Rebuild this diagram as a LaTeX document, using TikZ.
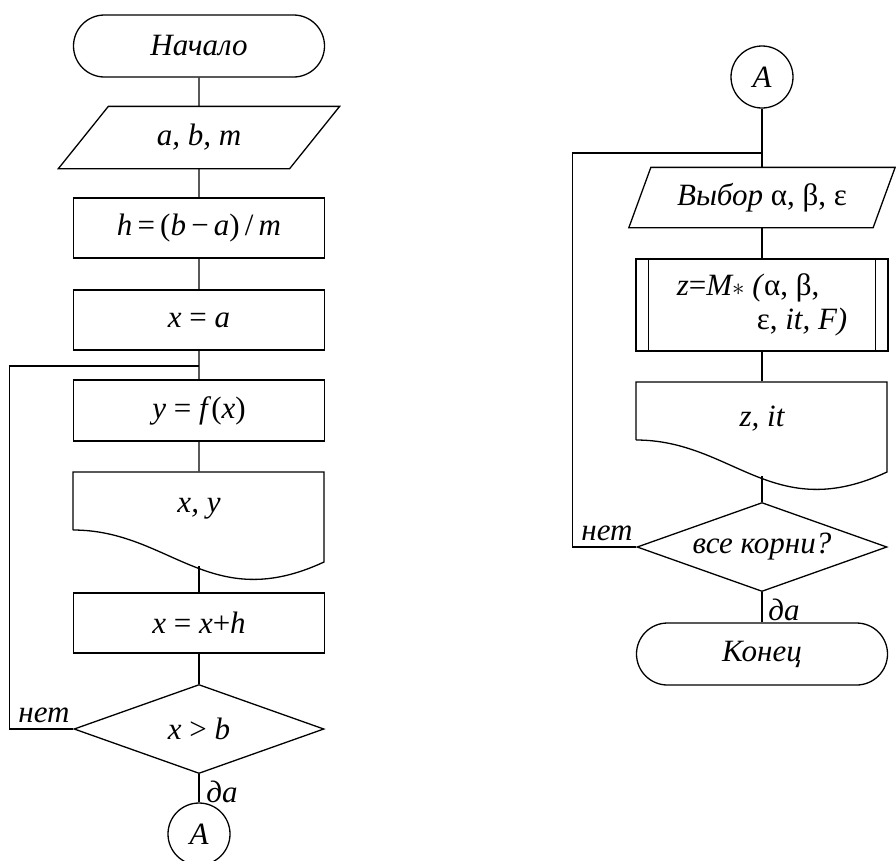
\documentclass[tikz,border=0pt]{standalone}
\usepackage{fontspec}
\setmainfont{Liberation Serif}
\usetikzlibrary{shapes.geometric,shapes.misc,calc}
\newcommand\upr[1]{\textup{#1}}
\tikzset{
  blk/.style={draw, rectangle, minimum width=251pt, minimum height=60pt, inner sep=0pt},
  term/.style={draw, rounded rectangle, minimum width=251pt, minimum height=62pt, inner sep=0pt},
  iobox/.style={rectangle, minimum height=61pt, inner sep=0pt},
  docbox/.style={rectangle, minimum width=251pt, minimum height=73pt, inner sep=0pt},
  cond/.style={draw, diamond, aspect=2.8, minimum width=250pt, minimum height=89pt, inner sep=0pt},
  conn/.style={draw, circle, minimum size=62pt, inner sep=0pt},
  lbl/.style={inner sep=0pt}
}
\begin{document}
\begin{tikzpicture}[x=1pt, y=-1pt, line width=1.3pt, font=\fontsize{31}{34}\selectfont\itshape]
\useasboundingbox (0,0) rectangle (896,860);
\node[term] (start) at (199,46) {Начало};
\node[iobox, minimum width=280pt] (abm) at (199,137.5) {a, b, m};
\draw (abm.south west) -- ($(abm.north west)+(50,0)$) -- (abm.north east) -- ($(abm.south east)+(-50,0)$) -- cycle;
\node[blk] (hcalc) at (199,228) {h\,\upr{=\,(}b\,\upr{−}\,a\upr{)\,/}\,m};
\node[blk] (xa) at (199,320) {x \upr{=} a};
\coordinate (loop1) at (199,366);
\node[blk, minimum height=61pt] (yfx) at (199,410.5) {y \upr{=} f\upr{(}x\upr{)}};
\node[docbox] (outxy) at (199,508.5) {x, y};
\draw (73,530) -- (73,472) -- (324,472) -- (324,562) .. controls (210,615) and (170,530) .. (73,530);
\coordinate (outxyb) at (199,566);
\node[blk] (xh) at (199,623) {x \upr{=} x\upr{+}h};
\node[cond] (xgtb) at (199,729) {x \upr{>} b};
\node[conn] (ca1) at (199,834) {A};
\node[lbl] (no1) at (44,715) {нет};
\node[lbl] (yes1) at (222,792) {да};
\draw (start) -- (abm) -- (hcalc) -- (xa) -- (yfx) -- (outxy);
\draw (outxyb) -- (xh) -- (xgtb) -- (ca1);
\draw (xgtb.west) -- ++(-64,0) |- (loop1);
\node[conn] (ca2) at (762,77) {A};
\coordinate (loop2) at (762,153);
\node[iobox, minimum width=265pt, minimum height=59pt] (choose) at (762,197.5) {Выбор \upr{α, β, ε}};
\draw (choose.south west) -- ($(choose.north west)+(22,0)$) -- (choose.north east) -- ($(choose.south east)+(-22,0)$) -- cycle;
\node[blk, minimum width=252pt, minimum height=92pt, align=left] (sub) at (762,305) {z\upr{=}M$\ast$ (\upr{α, β,}\\\hspace*{80pt}\upr{ε,} it, F)};
\draw ($(sub.north west)+(13,0)$) -- ($(sub.south west)+(13,0)$);
\draw ($(sub.north east)+(-13,0)$) -- ($(sub.south east)+(-13,0)$);
\node[docbox] (zit) at (762,418.5) {z, it};
\draw (636,440) -- (636,382) -- (887,382) -- (887,472) .. controls (773,525) and (733,440) .. (636,440);
\coordinate (zitb) at (762,476);
\node[cond] (roots) at (762,547) {все корни?};
\node[term] (stop) at (762,654) {Конец};
\node[lbl] (no2) at (607,533) {нет};
\node[lbl] (yes2) at (784,610) {да};
\draw (ca2) -- (loop2) -- (choose) -- (sub) -- (zit);
\draw (zitb) -- (roots) -- (stop);
\draw (roots.west) -- ++(-64,0) |- (loop2);
\end{tikzpicture}
\end{document}
